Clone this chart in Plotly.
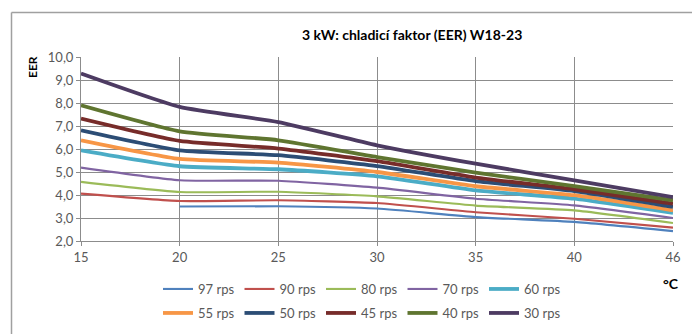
import plotly.graph_objects as go

temps = ["15", "20", "25", "30", "35", "40", "46"]
series_names = ["97 rps", "90 rps", "80 rps", "70 rps", "60 rps",
                "55 rps", "50 rps", "45 rps", "40 rps", "30 rps"]
eer_97 = [None, 3.50, 3.51, 3.41, 3.04, 2.83, 2.43]
eer_90 = [4.06, 3.74, 3.77, 3.65, 3.25, 2.97, 2.58]
eer_80 = [4.57, 4.13, 4.14, 3.94, 3.54, 3.33, 2.78]
eer_70 = [5.19, 4.64, 4.62, 4.32, 3.84, 3.55, 3.00]
eer_60 = [5.94, 5.25, 5.12, 4.81, 4.20, 3.84, 3.22]
eer_55 = [6.38, 5.57, 5.41, 5.00, 4.38, 3.99, 3.33]
eer_50 = [6.81, 5.94, 5.73, 5.26, 4.60, 4.17, 3.48]
eer_45 = [7.32, 6.35, 6.02, 5.47, 4.76, 4.25, 3.62]
eer_40 = [7.90, 6.77, 6.38, 5.65, 4.97, 4.39, 3.77]
eer_30 = [9.28, 7.83, 7.17, 6.16, 5.36, 4.64, 3.91]
all_values = [eer_97, eer_90, eer_80, eer_70, eer_60,
              eer_55, eer_50, eer_45, eer_40, eer_30]

colors = ["#4F81BD", "#C0504D", "#9BBB59", "#8064A2", "#4BACC6",
          "#F79646", "#2C4D75", "#772C2A", "#5F7530", "#4D3B62"]
widths = [2.1, 2.1, 2.1, 2.1, 3.8, 3.8, 3.8, 3.8, 3.8, 3.8]

W, H = 692, 334
L, R, T, B = 81, 19, 57, 93
pw, ph = W - L - R, H - T - B

def px_x(p):
    return (p - L) / pw

def px_y(p):
    return (H - B - p) / ph

def cx(p):
    return p / W

def cy(p):
    return 1 - p / H

FONT = "Lato"
fig = go.Figure()
for i, (name, vals) in enumerate(zip(series_names, all_values)):
    fig.add_trace(go.Scatter(
        x=temps, y=vals, name=name, mode="lines",
        line=dict(color=colors[i], width=widths[i], shape="spline", smoothing=0.5),
        legend="legend" if i < 5 else "legend2",
        connectgaps=False,
    ))

legend_common = dict(
    orientation="h", xanchor="left", yanchor="middle",
    xref="container", yref="container",
    font=dict(family=FONT, size=13, color="#595959"),
    entrywidth=36.5, entrywidthmode="pixels",
    bgcolor="rgba(0,0,0,0)", itemwidth=30, tracegroupgap=0,
)

fig.update_layout(
    width=W, height=H,
    margin=dict(l=L, r=R, t=T, b=B, autoexpand=False),
    paper_bgcolor="white", plot_bgcolor="white",
    separators=", ",
    font=dict(family=FONT, size=13, color="#595959"),
    legend=dict(x=cx(158), y=cy(289), **legend_common),
    legend2=dict(x=cx(158), y=cy(313), **legend_common),
    xaxis=dict(
        type="category", range=[0, 6], showgrid=True, gridcolor="#8C8C8C",
        gridwidth=1, showline=True, linecolor="#8C8C8C", ticks="outside",
        ticklen=4, tickcolor="#8C8C8C", zeroline=False,
        tickfont=dict(family=FONT, size=13, color="#595959"),
    ),
    yaxis=dict(
        range=[2, 10], dtick=1, tick0=2, tickformat=".1f", showgrid=True,
        gridcolor="#8C8C8C", gridwidth=1, showline=True, linecolor="#8C8C8C",
        ticks="outside", ticklen=4, tickcolor="#8C8C8C", zeroline=False,
        tickfont=dict(family=FONT, size=13, color="#595959"),
    ),
    annotations=[
        dict(text="<b>3 kW: chladicí faktor (EER) W18-23</b>", xref="paper", yref="paper",
             x=px_x(412), y=px_y(35), xanchor="center", yanchor="middle", showarrow=False,
             font=dict(family=FONT, size=14, color="#000000")),
        dict(text="<b>EER</b>", xref="paper", yref="paper", textangle=-90,
             x=px_x(32), y=px_y(67), xanchor="center", yanchor="middle", showarrow=False,
             font=dict(family=FONT, size=12, color="#000000")),
        dict(text="<b>°C</b>", xref="paper", yref="paper",
             x=px_x(671), y=px_y(283), xanchor="center", yanchor="middle", showarrow=False,
             font=dict(family=FONT, size=14, color="#000000")),
    ],
    shapes=[
        dict(type="line", xref="paper", yref="paper", x0=px_x(11.5), x1=px_x(11.5),
             y0=px_y(334), y1=px_y(12.5), line=dict(color="#A0A0A0", width=1.5)),
        dict(type="line", xref="paper", yref="paper", x0=px_x(11.5), x1=px_x(692),
             y0=px_y(12.5), y1=px_y(12.5), line=dict(color="#A0A0A0", width=1.5)),
    ],
    showlegend=True,
)

fig.write_html("out.html", config={"displayModeBar": False},
               post_script="document.body.style.margin='0';")
